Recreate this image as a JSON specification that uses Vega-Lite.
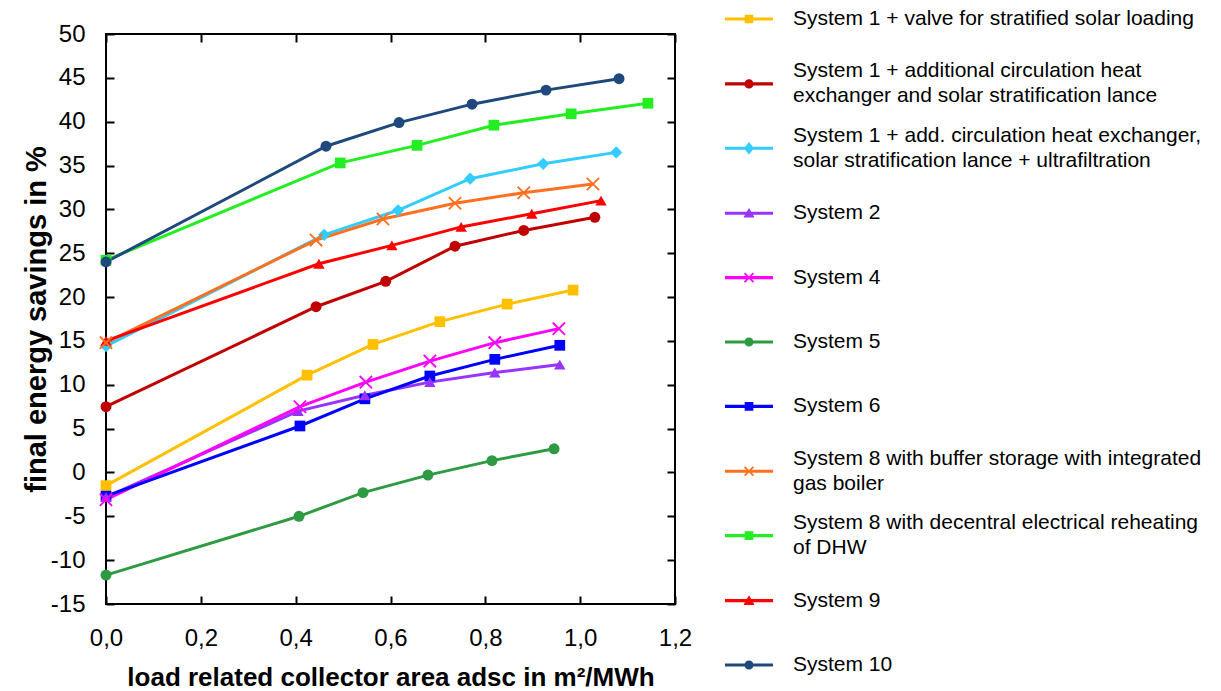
{
  "$schema": "https://vega.github.io/schema/vega-lite/v6.json",
  "width": 569,
  "height": 570,
  "autosize": {"type": "none"},
  "padding": {"left": 106, "top": 34, "right": 546, "bottom": 87},
  "background": "white",
  "config": {
    "font": "Liberation Sans",
    "view": {"stroke": "black", "strokeWidth": 2},
    "style": {"guide-label": {"lineHeight": 25}},
    "axis": {
      "grid": false,
      "domain": false,
      "tickColor": "black",
      "tickWidth": 2,
      "tickSize": -8,
      "labelFont": "Liberation Sans",
      "labelFontSize": 24,
      "labelColor": "black",
      "titleFont": "Liberation Sans",
      "titleColor": "black",
      "titleFontWeight": "bold"
    },
    "legend": {
      "padding": 0,
      "symbolSize": 2304,
      "symbolStrokeWidth": 0,
      "symbolOpacity": 1,
      "labelFont": "Liberation Sans",
      "labelFontSize": 21,
      "labelColor": "black",
      "labelLimit": 600,
      "labelOffset": 20,
      "rowPadding": 0.4
    }
  },
  "datasets": {
    "points": [
      {"series": "System 1 + valve for stratified solar loading", "x": 0, "y": -1.5},
      {"series": "System 1 + valve for stratified solar loading", "x": 0.424, "y": 11.1},
      {"series": "System 1 + valve for stratified solar loading", "x": 0.563, "y": 14.6},
      {"series": "System 1 + valve for stratified solar loading", "x": 0.704, "y": 17.2},
      {"series": "System 1 + valve for stratified solar loading", "x": 0.846, "y": 19.2},
      {"series": "System 1 + valve for stratified solar loading", "x": 0.985, "y": 20.8},
      {"series": "System 1 + additional circulation heat exchanger and solar stratification lance", "x": 0, "y": 7.5},
      {"series": "System 1 + additional circulation heat exchanger and solar stratification lance", "x": 0.443, "y": 18.9},
      {"series": "System 1 + additional circulation heat exchanger and solar stratification lance", "x": 0.59, "y": 21.8},
      {"series": "System 1 + additional circulation heat exchanger and solar stratification lance", "x": 0.736, "y": 25.8},
      {"series": "System 1 + additional circulation heat exchanger and solar stratification lance", "x": 0.881, "y": 27.6},
      {"series": "System 1 + additional circulation heat exchanger and solar stratification lance", "x": 1.031, "y": 29.1},
      {"series": "System 1 + add. circulation heat exchanger, solar stratification lance + ultrafiltration", "x": 0, "y": 14.4},
      {"series": "System 1 + add. circulation heat exchanger, solar stratification lance + ultrafiltration", "x": 0.46, "y": 27.1},
      {"series": "System 1 + add. circulation heat exchanger, solar stratification lance + ultrafiltration", "x": 0.616, "y": 29.9},
      {"series": "System 1 + add. circulation heat exchanger, solar stratification lance + ultrafiltration", "x": 0.768, "y": 33.5},
      {"series": "System 1 + add. circulation heat exchanger, solar stratification lance + ultrafiltration", "x": 0.922, "y": 35.2},
      {"series": "System 1 + add. circulation heat exchanger, solar stratification lance + ultrafiltration", "x": 1.076, "y": 36.5},
      {"series": "System 2", "x": 0, "y": -2.8},
      {"series": "System 2", "x": 0.405, "y": 7.0},
      {"series": "System 2", "x": 0.546, "y": 8.8},
      {"series": "System 2", "x": 0.683, "y": 10.3},
      {"series": "System 2", "x": 0.82, "y": 11.4},
      {"series": "System 2", "x": 0.957, "y": 12.3},
      {"series": "System 4", "x": 0, "y": -3.1},
      {"series": "System 4", "x": 0.409, "y": 7.5},
      {"series": "System 4", "x": 0.548, "y": 10.3},
      {"series": "System 4", "x": 0.683, "y": 12.7},
      {"series": "System 4", "x": 0.82, "y": 14.8},
      {"series": "System 4", "x": 0.955, "y": 16.4},
      {"series": "System 5", "x": 0, "y": -11.7},
      {"series": "System 5", "x": 0.407, "y": -5.0},
      {"series": "System 5", "x": 0.542, "y": -2.3},
      {"series": "System 5", "x": 0.679, "y": -0.3},
      {"series": "System 5", "x": 0.814, "y": 1.35},
      {"series": "System 5", "x": 0.945, "y": 2.7},
      {"series": "System 6", "x": 0, "y": -2.7},
      {"series": "System 6", "x": 0.409, "y": 5.3},
      {"series": "System 6", "x": 0.546, "y": 8.4},
      {"series": "System 6", "x": 0.683, "y": 11.0},
      {"series": "System 6", "x": 0.82, "y": 12.9},
      {"series": "System 6", "x": 0.957, "y": 14.5},
      {"series": "System 8 with buffer storage with integrated gas boiler", "x": 0, "y": 14.8},
      {"series": "System 8 with buffer storage with integrated gas boiler", "x": 0.443, "y": 26.5},
      {"series": "System 8 with buffer storage with integrated gas boiler", "x": 0.584, "y": 28.9},
      {"series": "System 8 with buffer storage with integrated gas boiler", "x": 0.736, "y": 30.7},
      {"series": "System 8 with buffer storage with integrated gas boiler", "x": 0.881, "y": 31.9},
      {"series": "System 8 with buffer storage with integrated gas boiler", "x": 1.027, "y": 32.9},
      {"series": "System 8 with decentral electrical reheating of DHW", "x": 0, "y": 24.2},
      {"series": "System 8 with decentral electrical reheating of DHW", "x": 0.494, "y": 35.3},
      {"series": "System 8 with decentral electrical reheating of DHW", "x": 0.656, "y": 37.3},
      {"series": "System 8 with decentral electrical reheating of DHW", "x": 0.818, "y": 39.6},
      {"series": "System 8 with decentral electrical reheating of DHW", "x": 0.981, "y": 40.9},
      {"series": "System 8 with decentral electrical reheating of DHW", "x": 1.143, "y": 42.1},
      {"series": "System 9", "x": 0, "y": 15.0},
      {"series": "System 9", "x": 0.449, "y": 23.8},
      {"series": "System 9", "x": 0.603, "y": 25.9},
      {"series": "System 9", "x": 0.749, "y": 28.0},
      {"series": "System 9", "x": 0.898, "y": 29.5},
      {"series": "System 9", "x": 1.044, "y": 31.0},
      {"series": "System 10", "x": 0, "y": 24.0},
      {"series": "System 10", "x": 0.464, "y": 37.2},
      {"series": "System 10", "x": 0.618, "y": 39.9},
      {"series": "System 10", "x": 0.772, "y": 42.0},
      {"series": "System 10", "x": 0.928, "y": 43.6},
      {"series": "System 10", "x": 1.082, "y": 44.9}
    ],
    "legend": [
      {"series": "System 1 + valve for stratified solar loading"},
      {"series": "System 1 + additional circulation heat exchanger and solar stratification lance"},
      {"series": "System 1 + add. circulation heat exchanger, solar stratification lance + ultrafiltration"},
      {"series": "System 2"},
      {"series": "System 4"},
      {"series": "System 5"},
      {"series": "System 6"},
      {"series": "System 8 with buffer storage with integrated gas boiler"},
      {"series": "System 8 with decentral electrical reheating of DHW"},
      {"series": "System 9"},
      {"series": "System 10"}
    ]
  },
  "resolve": {"axis": {"x": "independent", "y": "independent"}},
  "layer": [
    {
      "data": {"name": "points"},
      "mark": {"type": "line", "strokeWidth": 3},
      "encoding": {
        "x": {"field": "x", "type": "quantitative", "scale": {"domain": [0, 1.2], "nice": false, "zero": false},
          "axis": {"orient": "bottom", "values": [0, 0.2, 0.4, 0.6, 0.8, 1.0, 1.2], "labelExpr": "replace(format(datum.value, '.1f'), '.', ',')", "labelPadding": 30, "labelFlush": false,
            "title": "load related collector area adsc in m²/MWh", "titleFontSize": 26, "titlePadding": 14}},
        "y": {"field": "y", "type": "quantitative", "scale": {"domain": [-15, 50], "nice": false, "zero": false},
          "axis": {"orient": "left", "values": [-15, -10, -5, 0, 5, 10, 15, 20, 25, 30, 35, 40, 45, 50], "labelExpr": "datum.value + ''", "labelPadding": 29, "labelFlush": false,
            "title": "final energy savings in %", "titleFontSize": 29, "titlePadding": -1}},
        "color": {"field": "series", "type": "nominal",
          "scale": {"domain": [
            "System 10",
            "System 1 + valve for stratified solar loading",
            "System 1 + additional circulation heat exchanger and solar stratification lance",
            "System 1 + add. circulation heat exchanger, solar stratification lance + ultrafiltration",
            "System 2", "System 4", "System 5", "System 6",
            "System 8 with buffer storage with integrated gas boiler",
            "System 8 with decentral electrical reheating of DHW",
            "System 9"],
            "range": ["#1F497D", "#FFC000", "#C00000", "#33CCFF", "#9933FF", "#FF00FF", "#2E9B43", "#0000FF", "#FF7020", "#22EE22", "#FF0000"]},
          "legend": null}
      }
    },
    {
      "data": {"name": "points"},
      "transform": [{"filter": {"field": "series", "oneOf": ["System 1 + valve for stratified solar loading", "System 6", "System 8 with decentral electrical reheating of DHW"]}}],
      "mark": {"type": "point", "shape": "square", "filled": true, "size": 115, "opacity": 1},
      "encoding": {
        "x": {"field": "x", "type": "quantitative",
          "axis": {"orient": "top", "values": [0, 0.2, 0.4, 0.6, 0.8, 1.0, 1.2], "labels": false, "title": null}},
        "y": {"field": "y", "type": "quantitative",
          "axis": {"orient": "right", "values": [-15, -10, -5, 0, 5, 10, 15, 20, 25, 30, 35, 40, 45, 50], "labels": false, "title": null}},
        "color": {"field": "series", "type": "nominal", "legend": null}
      }
    },
    {
      "data": {"name": "points"},
      "transform": [{"filter": {"field": "series", "oneOf": ["System 1 + additional circulation heat exchanger and solar stratification lance", "System 5", "System 10"]}}],
      "mark": {"type": "point", "shape": "circle", "filled": true, "size": 120, "opacity": 1},
      "encoding": {
        "x": {"field": "x", "type": "quantitative", "axis": null},
        "y": {"field": "y", "type": "quantitative", "axis": null},
        "color": {"field": "series", "type": "nominal", "legend": null}
      }
    },
    {
      "data": {"name": "points"},
      "transform": [{"filter": {"field": "series", "oneOf": ["System 1 + add. circulation heat exchanger, solar stratification lance + ultrafiltration"]}}],
      "mark": {"type": "point", "shape": "diamond", "filled": true, "size": 150, "opacity": 1},
      "encoding": {
        "x": {"field": "x", "type": "quantitative", "axis": null},
        "y": {"field": "y", "type": "quantitative", "axis": null},
        "color": {"field": "series", "type": "nominal", "legend": null}
      }
    },
    {
      "data": {"name": "points"},
      "transform": [{"filter": {"field": "series", "oneOf": ["System 2", "System 9"]}}],
      "mark": {"type": "point", "shape": "triangle-up", "filled": true, "size": 130, "opacity": 1},
      "encoding": {
        "x": {"field": "x", "type": "quantitative", "axis": null},
        "y": {"field": "y", "type": "quantitative", "axis": null},
        "color": {"field": "series", "type": "nominal", "legend": null}
      }
    },
    {
      "data": {"name": "points"},
      "transform": [{"filter": {"field": "series", "oneOf": ["System 4", "System 8 with buffer storage with integrated gas boiler"]}}],
      "mark": {"type": "point", "shape": "M-1.3,-1.05L-1.05,-1.3L1.3,1.05L1.05,1.3Z M1.05,-1.3L1.3,-1.05L-1.05,1.3L-1.3,1.05Z", "filled": true, "size": 110, "opacity": 1},
      "encoding": {
        "x": {"field": "x", "type": "quantitative", "axis": null},
        "y": {"field": "y", "type": "quantitative", "axis": null},
        "color": {"field": "series", "type": "nominal", "legend": null}
      }
    },
    {
      "data": {"name": "legend"},
      "mark": {"type": "point", "filled": true, "opacity": 0},
      "encoding": {
        "fill": {"field": "series", "type": "nominal",
          "scale": {"domain": [
            "System 1 + valve for stratified solar loading",
            "System 1 + additional circulation heat exchanger and solar stratification lance",
            "System 1 + add. circulation heat exchanger, solar stratification lance + ultrafiltration",
            "System 2", "System 4", "System 5", "System 6",
            "System 8 with buffer storage with integrated gas boiler",
            "System 8 with decentral electrical reheating of DHW",
            "System 9", "System 10"],
            "range": ["#FFC000", "#C00000", "#33CCFF", "#9933FF", "#FF00FF", "#2E9B43", "#0000FF", "#FF7020", "#22EE22", "#FF0000", "#1F497D"]},
          "legend": {
            "title": null,
            "orient": "none",
            "legendX": 619,
            "legendY": -39,
            "labelExpr": "datum.label == 'System 1 + additional circulation heat exchanger and solar stratification lance' ? ['System 1 + additional circulation heat', 'exchanger and solar stratification lance'] : datum.label == 'System 1 + add. circulation heat exchanger, solar stratification lance + ultrafiltration' ? ['System 1 + add. circulation heat exchanger,', 'solar stratification lance + ultrafiltration'] : datum.label == 'System 8 with buffer storage with integrated gas boiler' ? ['System 8 with buffer storage with integrated', 'gas boiler'] : datum.label == 'System 8 with decentral electrical reheating of DHW' ? ['System 8 with decentral electrical reheating', 'of DHW'] : datum.label"
          }},
        "shape": {"field": "series", "type": "nominal",
          "scale": {"domain": [
            "System 1 + valve for stratified solar loading",
            "System 1 + additional circulation heat exchanger and solar stratification lance",
            "System 1 + add. circulation heat exchanger, solar stratification lance + ultrafiltration",
            "System 2", "System 4", "System 5", "System 6",
            "System 8 with buffer storage with integrated gas boiler",
            "System 8 with decentral electrical reheating of DHW",
            "System 9", "System 10"],
            "range": [
              "M-1,-0.065H1V0.065H-1Z M-0.18,-0.18H0.18V0.18H-0.18Z M0,-1.15Z M0,0.979Z",
              "M-1,0.455H1V0.585H-1Z M0.19,0.52A0.19,0.19 0 1,1 -0.19,0.52A0.19,0.19 0 1,1 0.19,0.52Z M0,-1.15Z M0,1.5Z",
              "M-1,0.455H1V0.585H-1Z M0,0.26L0.21,0.52L0,0.78L-0.21,0.52Z M0,-1.15Z M0,2.021Z",
              "M-1,-0.065H1V0.065H-1Z M0,-0.22L0.23,0.18L-0.23,0.18Z M0,-1.15Z M0,1.5Z",
              "M-1,-0.065H1V0.065H-1Z M-0.21,-0.16L-0.16,-0.21L0.21,0.16L0.16,0.21Z M0.16,-0.21L0.21,-0.16L-0.16,0.21L-0.21,0.16Z M0,-1.15Z M0,1.5Z",
              "M-1,-0.065H1V0.065H-1Z M0.19,0A0.19,0.19 0 1,1 -0.19,0A0.19,0.19 0 1,1 0.19,0Z M0,-1.15Z M0,1.5Z",
              "M-1,-0.065H1V0.065H-1Z M-0.18,-0.18H0.18V0.18H-0.18Z M0,-1.15Z M0,0.979Z",
              "M-1,0.455H1V0.585H-1Z M-0.21,0.36L-0.16,0.31L0.21,0.68L0.16,0.73Z M0.16,0.31L0.21,0.36L-0.16,0.73L-0.21,0.68Z M0,-1.15Z M0,1.5Z",
              "M-1,0.455H1V0.585H-1Z M-0.18,0.34H0.18V0.7H-0.18Z M0,-1.15Z M0,2.021Z",
              "M-1,-0.065H1V0.065H-1Z M0,-0.22L0.23,0.18L-0.23,0.18Z M0,-1.15Z M0,1.5Z",
              "M-1,-0.065H1V0.065H-1Z M0.19,0A0.19,0.19 0 1,1 -0.19,0A0.19,0.19 0 1,1 0.19,0Z M0,-1.15Z M0,1.5Z"
            ]},
          "legend": {
            "title": null,
            "orient": "none",
            "legendX": 619,
            "legendY": -39,
            "labelExpr": "datum.label == 'System 1 + additional circulation heat exchanger and solar stratification lance' ? ['System 1 + additional circulation heat', 'exchanger and solar stratification lance'] : datum.label == 'System 1 + add. circulation heat exchanger, solar stratification lance + ultrafiltration' ? ['System 1 + add. circulation heat exchanger,', 'solar stratification lance + ultrafiltration'] : datum.label == 'System 8 with buffer storage with integrated gas boiler' ? ['System 8 with buffer storage with integrated', 'gas boiler'] : datum.label == 'System 8 with decentral electrical reheating of DHW' ? ['System 8 with decentral electrical reheating', 'of DHW'] : datum.label"
          }}
      }
    }
  ]
}
